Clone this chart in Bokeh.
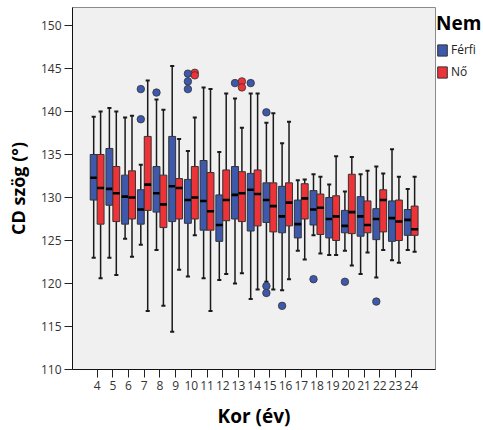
import numpy as np
from bokeh.plotting import figure
from bokeh.models import ColumnDataSource, Legend, LegendItem, FixedTicker, Range1d
from bokeh.embed import file_html
from bokeh.resources import INLINE

ages = list(range(4, 25))
age_labels = [str(a) for a in ages]
y_ticks = [110, 115, 120, 125, 130, 135, 140, 145, 150]

# Férfi (male)
m_low  = [123.0, 123.0, 125.2, 124.5, 123.9, 114.4, 120.8, 120.6, 120.4, 120.0, 118.2, 120.2, 119.2, 123.8, 125.6, 123.3, 123.8, 121.1, 120.7, 122.7, 123.9]
m_q1   = [129.7, 129.1, 126.9, 126.9, 128.3, 127.2, 127.0, 126.2, 124.9, 127.5, 126.1, 127.1, 125.9, 125.3, 126.8, 125.3, 125.9, 125.5, 125.1, 124.9, 125.6]
m_med  = [132.3, 131.0, 130.1, 128.6, 130.5, 131.3, 129.7, 129.6, 126.8, 130.3, 130.9, 129.7, 127.8, 126.9, 128.6, 127.5, 126.7, 127.8, 127.5, 127.6, 127.4]
m_q3   = [135.0, 135.7, 132.6, 130.9, 133.6, 137.1, 132.1, 134.3, 130.3, 133.6, 132.8, 131.7, 131.3, 129.7, 130.8, 130.0, 128.5, 130.1, 128.7, 129.6, 128.6]
m_high = [139.4, 140.4, 139.3, 133.8, 141.4, 145.3, 135.4, 142.8, 135.3, 141.5, 142.1, 138.7, 136.3, 132.0, 132.7, 131.5, 130.7, 132.7, 133.6, 135.6, 131.0]
m_out_age = [7, 7, 8, 10, 10, 10, 13, 14, 15, 15, 15, 16, 18, 20, 22]
m_out_val = [142.6, 139.1, 142.2, 144.4, 143.5, 142.6, 143.3, 143.3, 139.9, 119.7, 118.9, 117.4, 120.5, 120.2, 117.9]

# Nő (female)
f_low  = [120.6, 121.0, 123.1, 116.8, 117.4, 121.6, 125.6, 116.8, 121.1, 121.2, 119.3, 119.3, 120.5, 122.8, 123.5, 123.3, 122.1, 123.6, 123.9, 122.4, 123.7]
f_q1   = [126.9, 127.2, 127.5, 128.5, 126.5, 127.5, 127.5, 126.2, 127.3, 127.2, 126.7, 126.0, 126.7, 127.5, 125.7, 125.0, 125.8, 125.9, 126.0, 125.0, 125.6]
f_med  = [131.1, 130.5, 130.0, 131.5, 129.2, 131.1, 130.0, 128.4, 129.7, 130.5, 130.4, 129.0, 129.4, 129.9, 128.8, 127.8, 128.3, 126.8, 129.7, 127.2, 126.3]
f_q3   = [135.0, 133.6, 133.1, 137.1, 132.6, 132.2, 133.6, 132.9, 133.2, 133.0, 133.2, 131.7, 131.7, 131.6, 130.4, 130.2, 132.7, 129.6, 130.9, 129.7, 129.0]
f_high = [140.0, 140.0, 139.5, 143.6, 140.2, 136.8, 139.3, 142.6, 142.1, 138.1, 142.1, 139.8, 138.8, 132.1, 132.4, 134.8, 134.7, 133.1, 132.8, 132.4, 132.4]
f_out_age = [10, 10, 13, 13]
f_out_val = [144.5, 144.2, 143.5, 142.8]

BLUE = "#3E58AC"
RED = "#EE3338"
OFF = 0.22
BOXW = 0.44
CAPW = 0.13

FONT = "Open Sans"

p = figure(width=483, height=430, output_backend="svg", toolbar_location=None,
           x_range=Range1d(2.43, 25.55), y_range=Range1d(110, 152.09),
           min_border_left=72, min_border_right=48, min_border_top=7, min_border_bottom=61,
           frame_width=363, frame_height=362)
p.background_fill_color = "#F0F0F0"
p.border_fill_color = "white"
p.outline_line_color = "#8A8A8A"
p.grid.visible = False

def draw(sign, low, q1, med, q3, high, oa, ov, color):
    x = [a + sign * OFF for a in ages]
    src = ColumnDataSource(dict(x=x, low=low, q1=q1, med=med, q3=q3, high=high,
                                cl=[xx - CAPW for xx in x], cr=[xx + CAPW for xx in x],
                                ml=[xx - BOXW / 2 for xx in x], mr=[xx + BOXW / 2 for xx in x]))
    p.segment(x0="x", y0="q3", x1="x", y1="high", source=src, line_color="#1a1a1a", line_width=1.5)
    p.segment(x0="x", y0="low", x1="x", y1="q1", source=src, line_color="#1a1a1a", line_width=1.5)
    p.segment(x0="cl", y0="high", x1="cr", y1="high", source=src, line_color="#1a1a1a", line_width=2)
    p.segment(x0="cl", y0="low", x1="cr", y1="low", source=src, line_color="#1a1a1a", line_width=2)
    r = p.vbar(x="x", width=BOXW, bottom="q1", top="q3", source=src,
               fill_color=color, line_color="#333333", line_width=1)
    p.segment(x0="ml", y0="med", x1="mr", y1="med", source=src, line_color="black", line_width=2.6)
    osrc = ColumnDataSource(dict(x=[a + sign * OFF for a in oa], y=ov))
    p.scatter(x="x", y="y", source=osrc, size=7.5, fill_color=color, line_color="#333333", line_width=0.8)
    return r

rm = draw(-1, m_low, m_q1, m_med, m_q3, m_high, m_out_age, m_out_val, BLUE)
rf = draw(1, f_low, f_q1, f_med, f_q3, f_high, f_out_age, f_out_val, RED)

p.xaxis.ticker = FixedTicker(ticks=ages)
p.xaxis.major_label_overrides = {a: l for a, l in zip(ages, age_labels)}
p.yaxis.ticker = FixedTicker(ticks=y_ticks)
for ax in (p.xaxis[0], p.yaxis[0]):
    ax.minor_tick_line_color = None
    ax.major_tick_in = 0
    ax.major_tick_out = 8
    ax.major_tick_line_color = "#222222"
    ax.axis_line_color = "#111111"
    ax.major_label_text_font = FONT
    ax.major_label_text_font_size = "12px"
    ax.major_label_text_color = "#333333"
    ax.axis_label_text_font = FONT
    ax.axis_label_text_font_style = "bold"
    ax.axis_label_text_color = "black"
p.xaxis.major_label_standoff = 3
p.yaxis.major_label_standoff = 3
p.xaxis.axis_label = "Kor (év)"
p.xaxis.axis_label_text_font_size = "19px"
p.xaxis.axis_label_standoff = 10
p.yaxis.axis_label = "CD szög (°)"
p.yaxis.axis_label_text_font_size = "18px"
p.yaxis.axis_label_standoff = 8

legend = Legend(items=[LegendItem(label="Férfi", renderers=[rm]), LegendItem(label="Nő", renderers=[rf])],
                location=(1, 289), title="Nem")
legend.title_text_font = FONT
legend.title_text_font_style = "bold"
legend.title_text_font_size = "19px"
legend.title_text_color = "black"
legend.title_standoff = 5
legend.label_text_font = FONT
legend.label_text_font_size = "12px"
legend.label_text_color = "#222222"
legend.glyph_width = 12
legend.glyph_height = 14
legend.label_standoff = 3
legend.spacing = 5
legend.padding = 0
legend.margin = 0
legend.border_line_color = None
legend.background_fill_alpha = 0
legend.label_height = 14
p.add_layout(legend, "right")

open("out.html", "w").write(file_html(p, INLINE))
